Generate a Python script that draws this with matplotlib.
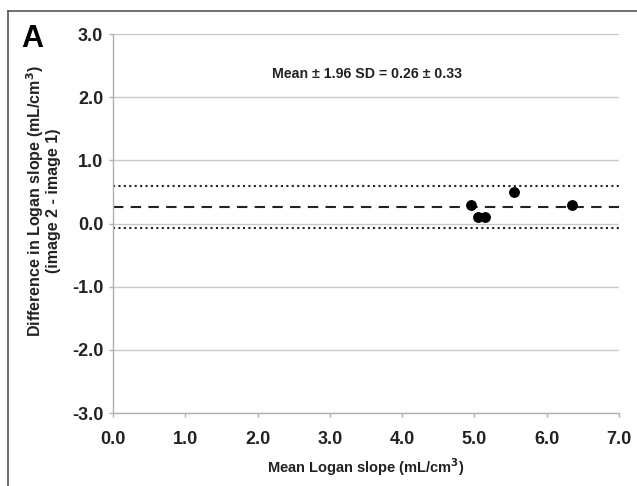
import matplotlib
matplotlib.use("Agg")
import matplotlib.pyplot as plt
from matplotlib.lines import Line2D

plt.rcParams['font.family'] = ['Liberation Sans', 'DejaVu Sans']
plt.rcParams['font.weight'] = 'bold'

mean_slope = [4.95, 5.05, 5.15, 5.55, 6.35]
diff_slope = [0.3, 0.1, 0.1, 0.5, 0.3]
mean_diff = 0.26
limit_of_agreement = 0.33
x_ticks = [0, 1, 2, 3, 4, 5, 6, 7]
y_ticks = [-3, -2, -1, 0, 1, 2, 3]

fig = plt.figure(figsize=(6.37, 4.86), dpi=100)
ax = fig.add_axes([113/637, 1-413/486, (619-113)/637, (413-34)/486])

for yt in y_ticks:
    ax.axhline(yt, color='#c8c8c8', lw=1.0, zorder=0)

ax.axhline(mean_diff, color='#222222', lw=1.5, ls=(0, (5, 3.5)), zorder=2)
ax.axhline(mean_diff + limit_of_agreement, color='#222222', lw=1.5, ls=(0, (1, 1.6)), zorder=2)
ax.axhline(mean_diff - limit_of_agreement, color='#222222', lw=1.5, ls=(0, (1, 1.6)), zorder=2)

ax.plot(mean_slope, diff_slope, 'o', color='black', ms=6.8, zorder=3)

ax.set_xlim(0, 7)
ax.set_ylim(-3, 3)
ax.set_xticks(x_ticks)
ax.set_xticklabels([f"{v:.1f}" for v in x_ticks])
ax.set_yticks(y_ticks)
ax.set_yticklabels([f"{v:.1f}" for v in y_ticks])

for s in ['top', 'right']:
    ax.spines[s].set_visible(False)
for s in ['left', 'bottom']:
    ax.spines[s].set_color('#b0b0b0')
    ax.spines[s].set_linewidth(1.0)
ax.tick_params(axis='both', colors='#b0b0b0', labelcolor='#222222', labelsize=13, length=3, width=1.0)
ax.tick_params(axis='y', pad=4)
ax.tick_params(axis='x', pad=10)
for lbl in ax.get_xticklabels() + ax.get_yticklabels():
    lbl.set_fontweight('bold')

ax.set_xlabel("Mean Logan slope (mL/cm$^\\mathbf{3}$)", fontsize=10.5, fontweight='bold', color='#222222', labelpad=6)
ax.set_ylabel("Difference in Logan slope (mL/cm$^\\mathbf{3}$)\n(image 2 - image 1)", fontsize=11.5,
              fontweight='bold', color='#222222', linespacing=1.0)
ax.yaxis.set_label_coords(-0.102, 0.56)

ax.text(3.52, 2.37, "Mean ± 1.96 SD = 0.26 ± 0.33", ha='center', va='center', fontsize=10.2,
        fontweight='bold', color='#222222')

fig.text(21/637, 1-39/486, "A", fontsize=22, fontweight='bold', color='black', va='center', ha='left')

fig.add_artist(Line2D([8/637, 8/637], [0, 1-11/486], transform=fig.transFigure, color='#555555', lw=1.2))
fig.add_artist(Line2D([8/637, 1], [1-11/486, 1-11/486], transform=fig.transFigure, color='#555555', lw=1.2))

fig.savefig("out.png", dpi=100)
